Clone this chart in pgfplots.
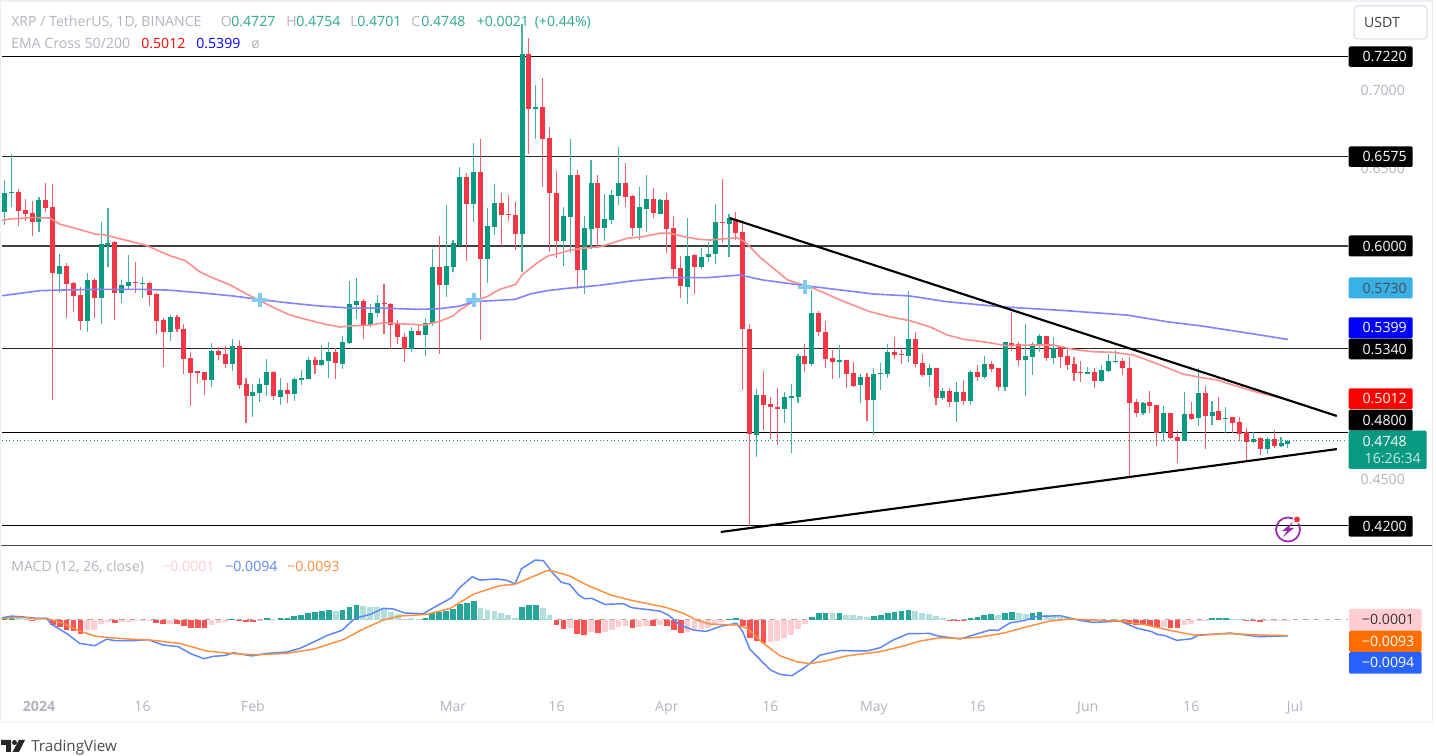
\documentclass[border=0pt]{standalone}
\usepackage{fontspec}
\setmainfont{Open Sans}
\usepackage{pgfplots}
\usepackage{pgfplotstable}
\pgfplotsset{compat=1.18}

\definecolor{tvgreen}{HTML}{089981}
\definecolor{tvred}{HTML}{F23645}
\definecolor{tvgray}{HTML}{B2B5BE}
\definecolor{frame}{HTML}{EEEFF6}
\definecolor{ema50}{HTML}{FF8F8F}
\definecolor{ema200}{HTML}{8383FF}
\definecolor{crossblue}{HTML}{85CBF0}
\definecolor{tagcyan}{HTML}{38B0E8}
\definecolor{tagorange}{HTML}{FF6D00}
\definecolor{tagblue}{HTML}{2962FF}
\definecolor{badge}{HTML}{9C27B0}
\definecolor{macdblue}{HTML}{5B86F7}
\definecolor{macdorange}{HTML}{FF8F3F}
\definecolor{histdg}{HTML}{26A69A}
\definecolor{histlg}{HTML}{B2DFDB}
\definecolor{histdr}{HTML}{FF5252}
\definecolor{histlr}{HTML}{FFCDD2}

% i = days since 1 Jan 2024, prices in USDT
\pgfplotstableread{
i o h l c
-5 .6220 .6426 .6136 .6344
-4 .6342 .6591 .6254 .6349
0 .6155 .6318 .6091 .6297
3 .5822 .5947 .5700 .5872
7 .5518 .5825 .5445 .5782
9 .5668 .6153 .5497 .6012
10 .6003 .6246 .5864 .6022
12 .5700 .5782 .5634 .5750
13 .5745 .5941 .5722 .5769
15 .5756 .5801 .5666 .5763
19 .5445 .5556 .5391 .5542
25 .5138 .5374 .5091 .5325
28 .5243 .5404 .5198 .5357
31 .5035 .5110 .4901 .5062
32 .5054 .5151 .4996 .5110
33 .5106 .5271 .5037 .5187
35 .5030 .5149 .4977 .5071
37 .5048 .5157 .5001 .5142
38 .5138 .5202 .5106 .5149
39 .5144 .5286 .5144 .5267
41 .5236 .5363 .5232 .5267
42 .5260 .5383 .5153 .5318
44 .5243 .5423 .5211 .5383
45 .5376 .5775 .5374 .5625
46 .5623 .5793 .5529 .5645
48 .5492 .5627 .5477 .5571
49 .5571 .5683 .5542 .5632
54 .5339 .5477 .5320 .5455
56 .5426 .5535 .5294 .5507
57 .5503 .5980 .5487 .5867
59 .5750 .6265 .5674 .5872
60 .5867 .6039 .5835 .6018
61 .6007 .6508 .6001 .6447
63 .6273 .6662 .6157 .6479
65 .5915 .6244 .5761 .6130
66 .6125 .6402 .6072 .6278
70 .6080 .7430 .5835 .7237
72 .6881 .7036 .6692 .6896
76 .6033 .6252 .5874 .6194
77 .6189 .6690 .5954 .6460
79 .5844 .6192 .5690 .6115
80 .6110 .6553 .5980 .6408
82 .6117 .6336 .6035 .6173
83 .6168 .6361 .6142 .6329
84 .6325 .6638 .6267 .6408
87 .6117 .6383 .6039 .6252
88 .6239 .6460 .6091 .6303
90 .6207 .6303 .6207 .6299
94 .5739 .6181 .5627 .5936
96 .5867 .5990 .5853 .5932
97 .5928 .6028 .5900 .5949
98 .5949 .6271 .5885 .6153
100 .6144 .6207 .5932 .6181
104 .4786 .5080 .4644 .5039
108 .4949 .5059 .4861 .5026
109 .5025 .5110 .4670 .5032
110 .5026 .5305 .4988 .5292
112 .5241 .5717 .5228 .5567
116 .5256 .5363 .5151 .5265
119 .5104 .5174 .4988 .5155
121 .5007 .5213 .4786 .5176
122 .5176 .5245 .5073 .5183
123 .5176 .5370 .5153 .5318
126 .5292 .5711 .5256 .5404
129 .5170 .5241 .5091 .5215
131 .5022 .5084 .5009 .5065
133 .4994 .5123 .4869 .5059
135 .5003 .5202 .4975 .5189
137 .5157 .5292 .5142 .5241
140 .5091 .5385 .5067 .5381
143 .5267 .5497 .5035 .5292
144 .5288 .5385 .5172 .5368
145 .5359 .5434 .5320 .5419
147 .5280 .5417 .5243 .5344
152 .5176 .5223 .5176 .5189
154 .5129 .5232 .5123 .5202
155 .5196 .5305 .5191 .5260
156 .5254 .5331 .5245 .5260
160 .4923 .4994 .4914 .4988
163 .4798 .4970 .4747 .4923
166 .4747 .5059 .4747 .4917
168 .4891 .5213 .4843 .5052
170 .4908 .5001 .4848 .4934
172 .4890 .4962 .4798 .4896
176 .4741 .4803 .4734 .4756
178 .4693 .4769 .4661 .4758
180 .4715 .4771 .4713 .4730
181 .4727 .4754 .4701 .4748
}\greencandles

\pgfplotstableread{
i o h l c
-3 .6350 .6368 .6130 .6228
-2 .6233 .6303 .6164 .6207
-1 .6211 .6291 .6065 .6155
1 .6297 .6408 .6220 .6246
2 .6252 .6400 .5009 .5825
4 .5872 .5889 .5535 .5758
5 .5761 .5769 .5574 .5681
6 .5685 .5735 .5460 .5518
8 .5782 .5795 .5535 .5668
11 .6025 .6033 .5524 .5700
14 .5769 .5900 .5696 .5763
16 .5764 .5771 .5614 .5687
17 .5692 .5696 .5436 .5518
18 .5524 .5539 .5223 .5445
20 .5542 .5556 .5449 .5464
21 .5468 .5498 .5178 .5275
22 .5280 .5318 .4970 .5183
23 .5193 .5194 .5120 .5186
24 .5187 .5187 .5041 .5138
26 .5325 .5348 .5267 .5301
27 .5305 .5357 .5217 .5243
29 .5357 .5395 .5082 .5106
30 .5110 .5149 .4859 .5035
34 .5189 .5194 .5007 .5035
36 .5071 .5117 .4988 .5048
40 .5267 .5288 .5178 .5236
43 .5318 .5342 .5146 .5249
47 .5647 .5658 .5400 .5492
50 .5634 .5754 .5436 .5627
51 .5627 .5632 .5335 .5490
52 .5497 .5524 .5370 .5413
53 .5417 .5442 .5256 .5339
55 .5453 .5492 .5426 .5426
58 .5867 .6065 .5307 .5750
62 .6447 .6473 .5906 .6273
64 .6479 .6690 .5395 .5915
67 .6278 .6342 .6003 .6200
68 .6207 .6329 .6164 .6200
69 .6200 .6282 .5973 .6080
71 .7237 .7340 .6593 .6881
73 .6896 .7081 .6383 .6692
74 .6694 .6765 .5964 .6344
75 .6342 .6486 .5922 .6033
78 .6460 .6490 .5722 .5844
81 .6408 .6460 .5990 .6117
85 .6408 .6533 .6254 .6318
86 .6323 .6329 .6065 .6117
89 .6303 .6376 .6183 .6213
91 .6297 .6342 .5954 .6110
92 .6115 .6194 .5793 .5855
93 .5859 .5936 .5668 .5745
95 .5941 .5947 .5692 .5867
99 .6155 .6434 .6022 .6149
101 .6175 .6218 .6039 .6083
102 .6089 .6166 .5073 .5464
103 .5468 .5497 .4195 .4788
105 .5039 .5196 .4816 .4977
106 .4981 .5026 .4760 .4962
107 .4966 .5084 .4721 .4949
111 .5292 .5370 .5189 .5241
113 .5567 .5580 .5419 .5445
114 .5449 .5520 .5215 .5273
115 .5280 .5331 .5144 .5254
117 .5267 .5267 .5084 .5176
118 .5181 .5252 .5091 .5099
120 .5155 .5183 .4876 .5007
124 .5318 .5417 .5273 .5301
125 .5308 .5342 .5241 .5302
127 .5404 .5449 .5222 .5241
128 .5245 .5305 .5157 .5168
130 .5215 .5215 .4977 .5022
132 .5065 .5088 .4962 .4994
134 .5059 .5138 .4977 .5003
136 .5187 .5236 .5133 .5157
138 .5241 .5260 .5189 .5209
139 .5215 .5215 .5067 .5091
141 .5376 .5574 .5327 .5363
142 .5372 .5385 .5230 .5267
146 .5419 .5423 .5258 .5280
148 .5352 .5357 .5217 .5288
149 .5292 .5346 .5202 .5235
150 .5241 .5284 .5129 .5185
151 .5189 .5260 .5127 .5181
153 .5189 .5213 .5084 .5129
157 .5260 .5281 .5170 .5215
158 .5215 .5288 .4511 .4988
159 .4994 .5013 .4901 .4923
161 .4994 .5067 .4923 .4970
162 .4975 .4975 .4715 .4798
164 .4923 .4923 .4756 .4762
165 .4773 .4816 .4601 .4747
167 .4917 .4998 .4880 .4887
169 .5052 .5099 .4693 .4908
171 .4936 .5026 .4882 .4882
173 .4898 .4902 .4795 .4863
174 .4867 .4902 .4747 .4792
175 .4803 .4829 .4623 .4741
177 .4764 .4773 .4655 .4693
179 .4758 .4816 .4698 .4713
}\redcandles

\pgfplotstableread{
i v
-5.65 .6164
-4.2 .6175
-.9 .6184
1.6 .6181
3.0 .6142
5.9 .6107
8.1 .6078
9.6 .6072
11.7 .6048
15.4 .6007
19.0 .5938
21.2 .5906
23.3 .5835
24.8 .5803
27.7 .5750
29.9 .5696
32.0 .5649
34.2 .5600
36.4 .5556
38.6 .5529
41.4 .5498
43.6 .5479
45.1 .5486
48.0 .5492
50.1 .5507
52.3 .5500
55.9 .5492
58.1 .5516
60.0 .5550
61.0 .5589
62.9 .5642
64.9 .5674
66.8 .5722
69.1 .5754
70.0 .5814
72.1 .5889
73.8 .5938
75.0 .5949
77.0 .5975
78.8 .5986
81.3 .5996
83.2 .6022
85.2 .6050
87.5 .6061
90.0 .6083
91.4 .6083
93.1 .6065
95.3 .6046
97.2 .6039
101.1 .6054
102.3 .6028
104.5 .5928
108.5 .5782
112.2 .5730
116.1 .5653
120.4 .5578
123.3 .5545
126.2 .5520
129.1 .5481
131.6 .5428
134.0 .5400
137.8 .5378
140.2 .5359
143.6 .5363
147.0 .5363
149.9 .5335
152.8 .5320
155.7 .5316
158.6 .5299
161.0 .5260
163.5 .5217
165.8 .5176
168.3 .5155
170.7 .5138
173.0 .5106
176.5 .5059
181 .5012
}\emafifty

\pgfplotstableread{
i v
-5.65 .5679
-2.8 .5696
.1 .5713
3.0 .5717
8.8 .5722
14.6 .5722
18.6 .5717
23.3 .5700
28.1 .5679
31.6 .5659
35.4 .5638
40.3 .5616
45.1 .5601
49.9 .5601
54.8 .5593
58.1 .5597
61.0 .5614
62.9 .5642
69.0 .5657
71.2 .5692
73.6 .5713
76.5 .5728
81.3 .5748
86.1 .5777
91.0 .5797
96.8 .5797
101.6 .5814
104.9 .5782
112.2 .5739
120.9 .5692
126.2 .5679
131.6 .5642
139.3 .5610
149.0 .5584
157.7 .5556
163.5 .5513
168.3 .5487
175.5 .5438
181 .5399
}\ematwohundred

\pgfplotstableread{
i v
-5.65 .0008
-4 .0021
-2.3 .0016
-.3 .0008
1.1 .0008
1.8 -.0027
4 -.0080
5.9 -.0138
8.1 -.0151
9.8 -.0113
11 -.0122
13.7 -.0122
15.8 -.0116
18 -.0147
20.2 -.0157
21.9 -.0196
23.9 -.0227
25.3 -.0213
27 -.0208
28.2 -.0192
30.8 -.0211
33 -.0196
35.9 -.0188
37.8 -.0167
39.8 -.0130
41.9 -.0089
43.9 -.0062
45.8 .0008
48 .0031
49.9 .0066
51.4 .0062
53 .0039
55.7 .0035
57.2 .0070
59.8 .0128
61 .0188
62.8 .0250
63.9 .0230
66.3 .0237
67.8 .0229
69 .0208
69.9 .0295
71.9 .0347
73.1 .0343
74.3 .0279
75.7 .0217
76.9 .0206
78.2 .0144
79.1 .0122
80.1 .0124
82 .0089
84.7 .0093
85.9 .0070
90 .0050
91.2 .0027
92.9 -.0031
94.8 -.0060
96.7 -.0068
98.9 -.0037
101.1 -.0021
102 -.0070
103 -.0171
106 -.0293
107.4 -.0318
109.1 -.0326
111 -.0277
113.2 -.0206
116.1 -.0180
120 -.0182
121.9 -.0163
123.8 -.0118
126 -.0081
129.1 -.0080
130.1 -.0093
131.5 -.0101
133.5 -.0112
135.9 -.0083
137.8 -.0060
139 -.0062
140.7 -.0019
142.9 -.0004
144.6 .0019
148 .0023
150.9 -.0004
152.8 -.0016
156.7 -.0008
159.1 -.0049
161.3 -.0070
162 -.0085
163.2 -.0093
164.9 -.0120
167 -.0111
168 -.0091
172.6 -.0078
176.9 -.0099
181 -.0094
}\macdline

\pgfplotstableread{
i v
-5.65 .0004
-3.2 .0014
-.8 .0008
1.1 .0008
3.5 -.0021
5.9 -.0066
8.1 -.0095
10.3 -.0105
13.7 -.0114
16.1 -.0118
20.4 -.0138
24.3 -.0182
28.2 -.0198
31.5 -.0204
35.9 -.0196
39.8 -.0171
44.1 -.0116
47 -.0054
49.9 -.0002
52.3 .0021
56.2 .0031
59.6 .0066
63 .0149
63.9 .0161
66.8 .0198
69 .0206
71.2 .0244
73.6 .0285
74.5 .0283
76.9 .0254
79.4 .0202
82.8 .0144
85.7 .0114
91 .0070
93.4 .0037
95.3 -.0002
97.2 -.0025
101.1 -.0031
102.6 -.0050
105 -.0138
107.4 -.0210
109.8 -.0244
111.7 -.0256
114.1 -.0239
117 -.0211
121.9 -.0186
125.3 -.0153
127.7 -.0124
130.6 -.0105
133.5 -.0109
136.4 -.0101
139.8 -.0078
143.2 -.0041
146.5 -.0008
149.4 .0004
152.8 -.0002
156.7 -.0008
160.5 -.0031
164.4 -.0066
167.3 -.0089
172.6 -.0081
176.9 -.0089
181 -.0093
}\signalline

\def\pxu{0.75pt}
\pgfplotsset{nodot/.style={only marks,mark size=0pt,mark options={draw=none,fill=none,opacity=0},forget plot}}
\newcommand{\txt}[5][]{\node[anchor=base west,inner sep=0pt,text=#4,#1] at ({#2*\pxu},{(756-#3)*\pxu}) {#5};}
\newcommand{\pricetag}[5]{%
  \fill[#3,rounded corners=1pt] ({1348.7*\pxu},{(756-#1)*\pxu}) rectangle ({1412.7*\pxu},{(756-#2)*\pxu});
  \node[anchor=east,inner sep=0pt,text=#4] at ({1407*\pxu},{(756-(#1+#2)/2)*\pxu}) {#5};}
\newcommand{\macdtag}[5]{%
  \fill[#3,rounded corners=1pt] ({1349*\pxu},{(756-#1)*\pxu}) rectangle ({1421.7*\pxu},{(756-#2)*\pxu});
  \node[anchor=east,inner sep=0pt,text=#4] at ({1414.5*\pxu},{(756-(#1+#2)/2)*\pxu}) {#5};}

\begin{document}
\begin{tikzpicture}
\path[use as bounding box] (0,0) rectangle ({1436*\pxu},{756*\pxu});
\fill[white] (0,0) rectangle ({1436*\pxu},{756*\pxu});
\fill[frame] (0,{(756-723.5)*\pxu}) rectangle ({1.5*\pxu},{756*\pxu});
\fill[frame] (0,{(756-2.5)*\pxu}) rectangle ({1433*\pxu},{756*\pxu});
\fill[frame] (0,{(756-723.5)*\pxu}) rectangle ({1433*\pxu},{(756-722)*\pxu});
\fill[frame] ({1432*\pxu},{(756-723.5)*\pxu}) rectangle ({1433*\pxu},{756*\pxu});
\draw[color=black!72,line width=1pt] ({1.5*\pxu},{(756-545.7)*\pxu}) -- ({1432*\pxu},{(756-545.7)*\pxu});

\begin{axis}[
    scale only axis, at={({2*\pxu},{(756-545.5)*\pxu})}, anchor=south west,
    width=1009.5pt, height=406.875pt,
    xmin=-5.362, xmax=189.71, ymin=.4072, ymax=.7566,
    axis line style={draw=none}, major tick length=0pt,
    xtick=\empty, ytick={.45,.65,.70}, yticklabel pos=right,
    y tick label style={text=tvgray, anchor=west, xshift=6pt,
      /pgf/number format/fixed, /pgf/number format/fixed zerofill,
      /pgf/number format/precision=4, /pgf/number format/assume math mode=true},
    every tick label/.append style={font=\fontsize{10.6}{12}\selectfont},
  ]
  % levels
  \addplot[black,line width=.75pt,forget plot] coordinates {(-5.362,.7220) (189.71,.7220)};
  \addplot[black!85,line width=.9pt,forget plot] coordinates {(-5.362,.6575) (189.71,.6575)};
  \addplot[black!75,line width=1pt,forget plot] coordinates {(-5.362,.6000) (189.71,.6000)};
  \addplot[black!85,line width=.9pt,forget plot] coordinates {(-5.362,.5340) (189.71,.5340)};
  \addplot[black,line width=.75pt,forget plot] coordinates {(-5.362,.4800) (189.71,.4800)};
  \addplot[black,line width=.75pt,forget plot] coordinates {(-5.362,.4200) (189.71,.4200)};
  \addplot[tvgreen,line width=.75pt,dotted,forget plot] coordinates {(-5.362,.4748) (189.71,.4748)};
  % wicks
  \addplot[nodot,error bars/.cd,y dir=both,y explicit,error mark=none,
      error bar style={line width=.8pt,color=tvgreen!75}]
    table[x=i,y=o,y error plus expr=\thisrow{h}-\thisrow{o},y error minus expr=\thisrow{o}-\thisrow{l}] {\greencandles};
  \addplot[nodot,error bars/.cd,y dir=both,y explicit,error mark=none,
      error bar style={line width=.8pt,color=tvred!80}]
    table[x=i,y=o,y error plus expr=\thisrow{h}-\thisrow{o},y error minus expr=\thisrow{o}-\thisrow{l}] {\redcandles};
  % bodies
  \addplot[nodot,error bars/.cd,y dir=plus,y explicit,error mark=none,
      error bar style={line width=3.75pt,color=tvgreen}]
    table[x=i,y=o,y error plus expr=\thisrow{c}-\thisrow{o}] {\greencandles};
  \addplot[nodot,error bars/.cd,y dir=minus,y explicit,error mark=none,
      error bar style={line width=3.75pt,color=tvred}]
    table[x=i,y=o,y error minus expr=\thisrow{o}-\thisrow{c}] {\redcandles};
  % EMAs
  \addplot[ema50,line width=1.2pt,forget plot] table[x=i,y=v] {\emafifty};
  \addplot[ema200,line width=1.2pt,forget plot] table[x=i,y=v] {\ematwohundred};
  % crosses
  \addplot[only marks,mark=+,mark size=5.5pt,mark options={line width=3pt,color=crossblue},forget plot]
    coordinates {(32,.5653) (63,.5653) (111,.5737)};
  % triangle
  \addplot[black,line width=1.6pt,forget plot] coordinates {(100.1,.6181) (188.1,.4906)};
  \addplot[black,line width=1.6pt,forget plot] coordinates {(98.8,.4159) (188.1,.4693)};
\end{axis}

\begin{axis}[
    scale only axis, at={({2*\pxu},{(756-722.5)*\pxu})}, anchor=south west,
    width=1009.5pt, height=132.375pt,
    xmin=-5.362, xmax=189.71, ymin=-.05977, ymax=.04285,
    axis line style={draw=none}, major tick length=0pt,
    ytick=\empty,
    xtick={0,15,31,60,75,91,106,121,136,152,167,182},
    xticklabels={\textbf{2024},16,Feb,Mar,16,Apr,16,May,16,Jun,16,Jul},
    x tick label style={text=tvgray, anchor=base, yshift=8.2pt},
    every tick label/.append style={font=\fontsize{10.6}{12}\selectfont},
  ]
  \addplot[gray!70,line width=.6pt,dash pattern=on 4pt off 4pt,forget plot] coordinates {(-5.362,0) (189.71,0)};
  \addplot[ycomb,histdg,line width=4.3pt,forget plot] coordinates {
    (-5,.0010) (-4,.0012) (28,.0002) (33,.0010) (35,.0008) (36,.0008) (37,.0023) (38,.0027) (39,.0041) (40,.0045)
    (41,.0050) (42,.0056) (44,.0056) (45,.0074) (46,.0085) (56,.0010) (57,.0039) (58,.0043) (59,.0052) (60,.0062)
    (61,.0093) (62,.0097) (63,.0109) (70,.0074) (71,.0085) (72,.0085) (100,.0004) (101,.0010) (112,.0016) (113,.0039)
    (114,.0039) (116,.0039) (121,.0021) (122,.0027) (123,.0039) (124,.0045) (125,.0050) (126,.0056) (135,.0012)
    (136,.0016) (137,.0029) (138,.0033) (140,.0037) (141,.0045) (144,.0039) (145,.0045) (170,.0010) (171,.0010) (172,.0010)};
  \addplot[ycomb,histlg,line width=4.3pt,forget plot] coordinates {
    (-3,.0008) (-2,.0004) (0,.0002) (1,.0002) (34,.0004) (43,.0050) (47,.0078) (48,.0074) (49,.0074) (50,.0066)
    (51,.0047) (52,.0035) (53,.0006) (54,.0012) (55,.0006) (64,.0068) (65,.0056) (66,.0052) (67,.0039) (68,.0027)
    (69,.0008) (73,.0068) (74,.0027) (115,.0037) (117,.0029) (118,.0025) (119,.0019) (120,.0016) (127,.0052)
    (128,.0041) (129,.0035) (130,.0019) (131,.0010) (139,.0027) (142,.0039) (143,.0035) (146,.0025) (147,.0023)
    (148,.0014) (149,.0008) (150,.0002) (173,.0006) (174,.0002)};
  \addplot[ycomb,histdr,line width=4.3pt,forget plot] coordinates {
    (-1,-.0010) (2,-.0031) (3,-.0043) (4,-.0060) (5,-.0066) (6,-.0085) (11,-.0019) (17,-.0019) (18,-.0027) (20,-.0027)
    (21,-.0037) (22,-.0049) (23,-.0049) (24,-.0049) (29,-.0008) (30,-.0014) (31,-.0014) (75,-.0031) (76,-.0054)
    (78,-.0085) (79,-.0091) (81,-.0080) (86,-.0049) (89,-.0037) (91,-.0037) (92,-.0060) (93,-.0080) (102,-.0039)
    (103,-.0107) (104,-.0122) (105,-.0138) (132,-.0004) (133,-.0004) (134,-.0006) (151,-.0006) (152,-.0006)
    (157,-.0008) (158,-.0023) (159,-.0033) (160,-.0033) (161,-.0037) (162,-.0043) (164,-.0049) (165,-.0050)
    (175,-.0010) (176,-.0010) (177,-.0016)};
  \addplot[ycomb,histlr,line width=4.3pt,forget plot] coordinates {
    (7,-.0060) (8,-.0060) (9,-.0027) (10,-.0016) (12,-.0014) (13,-.0012) (14,-.0008) (15,-.0006) (16,-.0004) (19,-.0025)
    (25,-.0031) (26,-.0019) (27,-.0012) (32,-.0008) (77,-.0049) (80,-.0072) (82,-.0072) (83,-.0058) (84,-.0043)
    (85,-.0035) (87,-.0043) (88,-.0035) (90,-.0033) (94,-.0070) (95,-.0060) (96,-.0056) (97,-.0049) (98,-.0029)
    (99,-.0016) (106,-.0130) (107,-.0126) (108,-.0109) (109,-.0089) (110,-.0052) (111,-.0025) (153,-.0004) (154,-.0004)
    (155,-.0004) (156,-.0004) (163,-.0045) (166,-.0033) (167,-.0023) (168,-.0010) (169,-.0004) (178,-.0010)
    (179,-.0010) (180,-.0008) (181,-.0002)};
  \addplot[macdblue,line width=1.1pt,forget plot] table[x=i,y=v] {\macdline};
  \addplot[macdorange,line width=1.1pt,forget plot] table[x=i,y=v] {\signalline};
\end{axis}

\fontsize{10.6}{12}\selectfont
% header
\txt{11}{26.5}{tvgray}{XRP / TetherUS, 1D, BINANCE}
\txt{220.5}{26.5}{tvgray}{O}\txt{231}{26.5}{tvgreen!85}{0.4727}
\txt{286}{26.5}{tvgray}{H}\txt{296}{26.5}{tvgreen!85}{0.4754}
\txt{350}{26.5}{tvgray}{L}\txt{357}{26.5}{tvgreen!85}{0.4701}
\txt{411}{26.5}{tvgray}{C}\txt{421}{26.5}{tvgreen!85}{0.4748}
\txt{476.5}{26.5}{tvgreen!85}{+0.0021}\txt{534.5}{26.5}{tvgreen!85}{(+0.44\%)}
\txt{11}{48.5}{tvgray}{EMA Cross 50/200}
\txt{141}{48.5}{red}{0.5012}\txt{196}{48.5}{blue}{0.5399}\txt{251}{48.5}{tvgray}{ø}
\txt{11}{571.5}{tvgray}{MACD (12, 26, close)}
\txt{162}{571.5}{histlr}{−0.0001}\txt{225}{571.5}{macdblue}{−0.0094}\txt{287}{571.5}{macdorange}{−0.0093}

% price scale
\draw[frame!80!gray,rounded corners=2.5pt,line width=.75pt,fill=white] ({1354*\pxu},{(756-6)*\pxu}) rectangle ({1427*\pxu},{(756-39)*\pxu});
\node[text=black!75,inner sep=0pt] at ({1382*\pxu},{(756-22.5)*\pxu}) {USDT};
\pricetag{46.5}{67}{black}{white}{0.7220}
\pricetag{146.5}{167}{black}{white}{0.6575}
\pricetag{235.5}{256.5}{black}{white}{0.6000}
\pricetag{277.5}{298.5}{tagcyan}{black!70}{0.5730}
\pricetag{317.3}{338.3}{blue}{white}{0.5399}
\pricetag{338.7}{359.3}{black}{white}{0.5340}
\pricetag{388.3}{409}{red}{white}{0.5012}
\pricetag{409.7}{430.7}{black}{white}{0.4800}
\pricetag{516}{536.7}{black}{white}{0.4200}
\fill[tvgreen,rounded corners=1pt] ({1348.7*\pxu},{(756-430.7)*\pxu}) rectangle ({1426.7*\pxu},{(756-469)*\pxu});
\node[anchor=east,text=white,inner sep=0pt] at ({1407*\pxu},{(756-441.5)*\pxu}) {0.4748};
\node[anchor=east,text=white!80!tvgreen,inner sep=0pt] at ({1421*\pxu},{(756-458.5)*\pxu}) {16:26:34};
\macdtag{609}{630.7}{histlr}{black!80}{−0.0001}
\macdtag{630.7}{652}{tagorange}{white}{−0.0093}
\macdtag{652}{673.7}{tagblue}{white}{−0.0094}

% lightning badge
\draw[badge,line width=1.3pt] ({1288*\pxu},{(756-529.5)*\pxu}) circle ({12*\pxu});
\fill[badge] ({1293*\pxu},{(756-522)*\pxu}) -- ({1282*\pxu},{(756-531)*\pxu}) -- ({1287*\pxu},{(756-531)*\pxu}) -- ({1283*\pxu},{(756-537)*\pxu}) -- ({1294*\pxu},{(756-528)*\pxu}) -- ({1289*\pxu},{(756-528)*\pxu}) -- cycle;
\fill[white] ({1297*\pxu},{(756-519.5)*\pxu}) circle ({4.5*\pxu});
\fill[tvred] ({1297*\pxu},{(756-519.5)*\pxu}) circle ({3*\pxu});

% logo
\fill[black!85] ({1*\pxu},{(756-740)*\pxu}) -- ({11*\pxu},{(756-740)*\pxu}) -- ({11*\pxu},{(756-752)*\pxu}) -- ({6*\pxu},{(756-752)*\pxu}) -- ({6*\pxu},{(756-745)*\pxu}) -- ({1*\pxu},{(756-745)*\pxu}) -- cycle;
\fill[black!85] ({14.5*\pxu},{(756-742.5)*\pxu}) circle ({2.5*\pxu});
\fill[black!85] ({19*\pxu},{(756-740)*\pxu}) -- ({25*\pxu},{(756-740)*\pxu}) -- ({19*\pxu},{(756-752)*\pxu}) -- ({12.5*\pxu},{(756-752)*\pxu}) -- cycle;
{\fontsize{11.4}{13}\selectfont\txt{31}{751.5}{black!70}{TradingView}}
\end{tikzpicture}
\end{document}
